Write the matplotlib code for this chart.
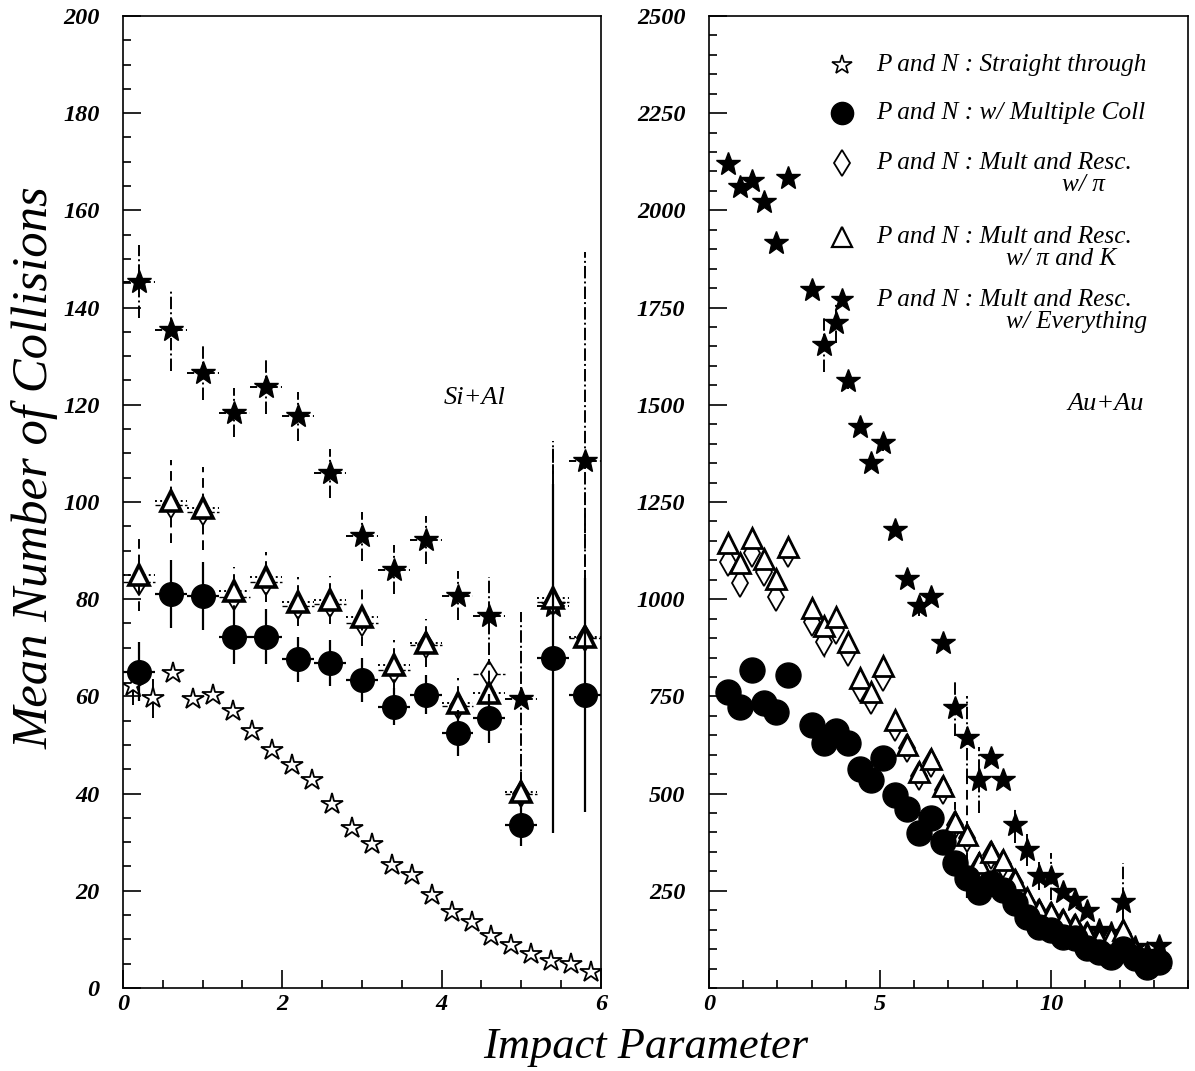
import matplotlib
matplotlib.use("Agg")
import matplotlib.pyplot as plt
from matplotlib.ticker import MultipleLocator

plt.rcParams['font.family'] = ['Liberation Serif', 'DejaVu Serif']
plt.rcParams['mathtext.fontset'] = 'custom'

# ---- Si+Al (left panel) ----
si_x_straight = [0.125, 0.375, 0.625, 0.875, 1.125, 1.375, 1.625, 1.875, 2.125, 2.375, 2.625, 2.875,
                 3.125, 3.375, 3.625, 3.875, 4.125, 4.375, 4.625, 4.875, 5.125, 5.375, 5.625, 5.875]
si_straight = [62.2, 59.6, 64.9, 59.4, 60.3, 57.0, 52.9, 49.0, 45.9, 42.7, 37.9, 32.9,
               29.6, 25.3, 23.3, 19.2, 15.7, 13.6, 10.7, 8.8, 7.0, 5.6, 4.9, 3.2]
si_straight_err = [4, 4, 0, 0, 0, 0, 0, 0, 0, 0, 0, 0, 0, 0, 0, 0, 0, 0, 0, 0, 0, 0, 0, 0]

si_x = [0.2, 0.6, 1.0, 1.4, 1.8, 2.2, 2.6, 3.0, 3.4, 3.8, 4.2, 4.6, 5.0, 5.4, 5.8]
si_mult = [65.1, 81.1, 80.7, 72.3, 72.3, 67.6, 66.9, 63.4, 57.9, 60.3, 52.5, 55.5, 33.5, 67.8, 60.3]
si_mult_err = [6, 7, 7, 5.7, 5.7, 4.6, 4.7, 4.6, 3.8, 4, 4.7, 5, 4.3, 36, 24]
si_pi = [83.5, 99.3, 98.0, 80.5, 83.5, 78.5, 79.0, 75.0, 65.5, 70.5, 58.0, 64.7, 40.0, 79.5, 72.0]
si_pik = [85.0, 100.1, 98.7, 81.7, 84.6, 79.5, 79.8, 76.4, 66.5, 71.0, 58.7, 60.6, 40.4, 80.2, 72.3]
si_pik_err = [7.5, 8.5, 8.5, 5, 5.2, 5, 5, 6, 5, 5, 5, 7, 4, 32, 30]
si_all = [145.3, 135.4, 126.5, 118.4, 123.7, 117.6, 105.9, 92.9, 86.1, 92.2, 80.7, 76.5, 59.4, 78.5, 108.5]
si_all_err = [7.5, 8.5, 5.5, 5, 5.5, 5, 5, 5, 5, 5, 5, 8, 18, 34, 43]
si_bin_half = 0.2

# ---- Au+Au (right panel) ----
au_x = [0.55, 0.90, 1.25, 1.60, 1.95, 2.30, 3.00, 3.35, 3.70, 4.05, 4.40, 4.75, 5.10, 5.45, 5.80, 6.15,
        6.50, 6.85, 7.20, 7.55, 7.90, 8.25, 8.60, 8.95, 9.30, 9.65, 10.00, 10.35, 10.70, 11.05, 11.40,
        11.75, 12.10, 12.45, 12.80, 13.15]
au_mult = [762, 723, 818, 732, 709, 805, 676, 631, 661, 629, 562, 535, 591, 496, 460, 399,
           436, 376, 321, 282, 248, 269, 252, 218, 183, 158, 149, 132, 128, 102, 93,
           81, 100, 76, 55, 68]
au_mult_err = [0, 0, 0, 0, 0, 0, 0, 15, 0, 12, 0, 0, 0, 0, 0, 0,
               0, 0, 30, 50, 30, 0, 0, 0, 0, 0, 0, 0, 0, 0, 0,
               0, 0, 0, 0, 0]
au_pi = [1096, 1042, 1118, 1071, 1006, 1118, 942, 891, 921, 865, 771, 741, 801, 672, 617, 545,
         578, 509, 420, 385, 312, 342, 320, 270, 222, 192, 185, 168, 155, 135, 118,
         125, 140, 92, 65, 75]
au_pi_err = [0, 0, 0, 0, 0, 0, 0, 40, 0, 0, 15, 15, 15, 0, 0, 0,
             0, 0, 0, 0, 0, 0, 0, 0, 0, 0, 0, 0, 0, 0, 0,
             0, 0, 0, 0, 0]
au_pik = [1144, 1094, 1157, 1103, 1051, 1135, 977, 930, 955, 891, 797, 760, 827, 689, 625, 555,
          590, 520, 428, 394, 321, 351, 329, 278, 231, 201, 192, 175, 162, 141, 125,
          132, 149, 98, 70, 80]
au_pik_err = [0, 0, 0, 0, 0, 0, 0, 0, 0, 0, 0, 0, 0, 0, 0, 0,
              0, 0, 50, 150, 30, 0, 20, 20, 0, 0, 30, 0, 0, 0, 0,
              0, 50, 0, 0, 0]
au_all = [2118, 2060, 2076, 2021, 1915, 2082, 1795, 1655, 1710, 1560, 1444, 1350, 1401, 1178, 1051, 982,
          1005, 888, 719, 642, 535, 591, 535, 419, 355, 288, 286, 248, 226, 199, 149,
          141, 222, 106, 90, 108]
au_all_err = [0, 0, 0, 0, 0, 0, 0, 70, 50, 20, 15, 15, 20, 0, 0, 25,
              0, 0, 70, 110, 85, 0, 0, 45, 40, 35, 60, 0, 0, 0, 0,
              0, 100, 0, 0, 0]

legend_labels = ['P and N : Straight through', 'P and N : w/ Multiple Coll',
                 'P and N : Mult and Resc.', 'P and N : Mult and Resc.', 'P and N : Mult and Resc.']
legend_sub = ['', '', 'w/ π', 'w/ π and K', 'w/ Everything']

TICKFONT = dict(family=['Liberation Serif', 'DejaVu Serif'], style='italic', weight='bold', size=17.5)


def draw_err(ax, x, y, yerr, xerr, marker, ms, mfc, mew, vstyle, hstyle, elw=1.4, z=3):
    eb = ax.errorbar(x, y, yerr=yerr, xerr=xerr, fmt=marker, ms=ms, mfc=mfc, mec='black',
                     mew=mew, ecolor='black', elinewidth=elw, capsize=0, zorder=z)
    cols = eb[2]
    if xerr is not None and yerr is not None:
        cols[0].set_linestyle(hstyle)
        cols[1].set_linestyle(vstyle)
    elif yerr is not None:
        cols[0].set_linestyle(vstyle)
    elif xerr is not None:
        cols[0].set_linestyle(hstyle)
    return eb


def style_axes(ax):
    for s in ax.spines.values():
        s.set_linewidth(1.2)
    ax.tick_params(which='both', direction='in', top=False, right=False, width=1.2)
    ax.tick_params(which='major', length=13)
    ax.tick_params(which='minor', length=6)
    ax.tick_params(axis='y', pad=17)
    ax.tick_params(axis='x', pad=4)
    for lab in ax.get_xticklabels() + ax.get_yticklabels():
        lab.set_fontproperties(matplotlib.font_manager.FontProperties(**TICKFONT))


fig = plt.figure(figsize=(11.95, 10.71), dpi=100)
ax1 = fig.add_axes([0.1029, 0.0775, 0.4, 0.9076])
ax2 = fig.add_axes([0.5933, 0.0775, 0.4008, 0.9076])

# left panel
draw_err(ax1, si_x_straight, si_straight, si_straight_err, None, '*', 16, 'white', 1.3, '-', '-', z=3)
draw_err(ax1, si_x, si_all, si_all_err, si_bin_half, '*', 18, 'black', 1.0, '-.', '--', z=4)
draw_err(ax1, si_x, si_pi, None, si_bin_half, 'd', 13, 'white', 1.3, '-', '--', elw=1.0, z=5)
draw_err(ax1, si_x, si_pik, si_pik_err, si_bin_half, '^', 14, 'white', 2.6, (0, (5, 3)), ':', z=6)
draw_err(ax1, si_x, si_mult, si_mult_err, si_bin_half, 'o', 17, 'black', 1.0, '-', '-', elw=1.6, z=7)

ax1.set_xlim(0, 6)
ax1.set_ylim(0, 200)
ax1.xaxis.set_major_locator(MultipleLocator(2))
ax1.xaxis.set_minor_locator(MultipleLocator(0.5))
ax1.yaxis.set_major_locator(MultipleLocator(20))
ax1.yaxis.set_minor_locator(MultipleLocator(5))
style_axes(ax1)
ax1.text(4.42, 121.4, 'Si+Al', ha='center', va='center', style='italic', fontsize=19)

# right panel
draw_err(ax2, au_x, au_all, au_all_err, None, '*', 18, 'black', 1.0, '-.', '--', z=4)
draw_err(ax2, au_x, au_pi, au_pi_err, None, 'd', 14, 'white', 1.3, '-', '--', elw=1.0, z=5)
draw_err(ax2, au_x, au_pik, au_pik_err, None, '^', 15, 'white', 2.0, (0, (5, 3)), ':', z=6)
draw_err(ax2, au_x, au_mult, au_mult_err, None, 'o', 18, 'black', 1.0, '-', '-', elw=1.6, z=7)

ax2.set_xlim(0, 14)
ax2.set_ylim(0, 2500)
ax2.set_xticks([0, 5, 10])
ax2.xaxis.set_minor_locator(MultipleLocator(1))
ax2.set_yticks(list(range(250, 2501, 250)))
ax2.yaxis.set_minor_locator(MultipleLocator(50))
style_axes(ax2)
ax2.text(11.6, 1502, 'Au+Au', ha='center', va='center', style='italic', fontsize=19)

# legend drawn by hand (marker + two-line labels)
leg_markers = [('*', 'white', 15, 1.2), ('o', 'black', 16, 1.0), ('d', 'white', 13, 1.3),
               ('^', 'white', 15, 1.6), ('*', 'black', 17, 1.0)]
leg_y = [0.9496, 0.9002, 0.8488, 0.7726, 0.7078]
sub_x = [0, 0, 0.737, 0.62, 0.62]
for i, (m, fc, ms, mw) in enumerate(leg_markers):
    ax2.plot([0.278], [leg_y[i]], marker=m, ms=ms, mfc=fc, mec='black', mew=mw,
             transform=ax2.transAxes, clip_on=False, ls='none')
    ax2.text(0.349, leg_y[i], legend_labels[i], transform=ax2.transAxes, ha='left',
             va='center', style='italic', fontsize=18.2)
    if legend_sub[i]:
        ax2.text(sub_x[i], leg_y[i] - 0.0225, legend_sub[i], transform=ax2.transAxes,
                 ha='left', va='center', style='italic', fontsize=18.2)

fig.text(0.54, 0.022, 'Impact Parameter', ha='center', va='center', style='italic', fontsize=32)
fig.text(0.029, 0.563, 'Mean Number of Collisions', ha='center', va='center', rotation=90,
         style='italic', fontsize=36.5)

fig.savefig('out.png', dpi=100)
